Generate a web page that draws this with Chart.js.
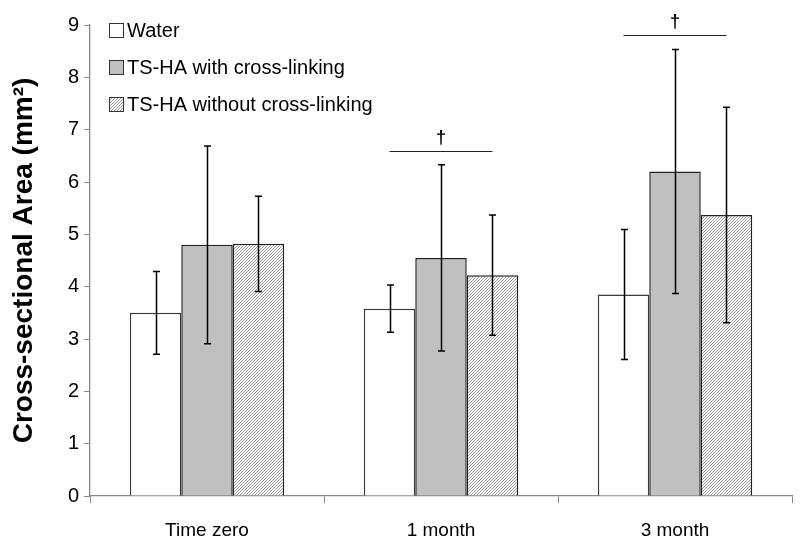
<!DOCTYPE html>
<html>
<head>
<meta charset="utf-8">
<script src="https://cdn.jsdelivr.net/npm/chart.js@4.4.1/dist/chart.umd.min.js"></script>
<style>
  html, body { margin: 0; padding: 0; background: #fff; }
  #wrap { width: 800px; height: 552px; }
</style>
</head>
<body>
<div id="wrap"><canvas id="chart"></canvas></div>
<script>
const categories = ['Time zero', '1 month', '3 month'];
const seriesNames = ['Water', 'TS-HA with cross-linking', 'TS-HA without cross-linking'];
const water = [3.5, 3.58, 3.85];
const waterSd = [0.79, 0.45, 1.24];
const withCL = [4.8, 4.55, 6.2];
const withCLSd = [1.89, 1.78, 2.33];
const withoutCL = [4.82, 4.22, 5.37];
const withoutCLSd = [0.91, 1.15, 2.06];
const yTicks = [0, 1, 2, 3, 4, 5, 6, 7, 8, 9];
const sigMarks = ['', '\u2020', '\u2020'];

Chart.defaults.font.family = "'Liberation Sans', Arial, sans-serif";
Chart.defaults.color = '#000';

// fine diagonal hatch for the third series
function hatch() {
    const c = document.createElement('canvas');
    c.width = 3;
    c.height = 3;
    const g = c.getContext('2d');
    g.fillStyle = '#fff';
    g.fillRect(0, 0, 3, 3);
    g.fillStyle = '#9a9a9a';
    g.fillRect(0, 2, 1, 1);
    g.fillRect(1, 1, 1, 1);
    g.fillRect(2, 0, 1, 1);
    return g.createPattern(c, 'repeat');
}
const hatchFill = hatch();

const errorBars = {
    id: 'errorBars',
    afterDatasetsDraw(chart) {
        const ctx = chart.ctx;
        const y = chart.scales.y;
        ctx.save();
        ctx.strokeStyle = '#000';
        ctx.lineWidth = 1.5;
        chart.data.datasets.forEach((ds, i) => {
            const meta = chart.getDatasetMeta(i);
            meta.data.forEach((bar, j) => {
                const top = y.getPixelForValue(ds.data[j] + ds.sd[j]);
                const bot = y.getPixelForValue(ds.data[j] - ds.sd[j]);
                const x = Math.round(bar.x) + 0.5;
                ctx.beginPath();
                ctx.moveTo(x, top); ctx.lineTo(x, bot);
                ctx.moveTo(x - 3.5, top); ctx.lineTo(x + 3.5, top);
                ctx.moveTo(x - 3.5, bot); ctx.lineTo(x + 3.5, bot);
                ctx.stroke();
            });
        });
        // significance lines between first and last bar of a group
        const first = chart.getDatasetMeta(0).data;
        const last = chart.getDatasetMeta(2).data;
        ctx.strokeStyle = '#222';
        ctx.lineWidth = 1.2;
        ctx.fillStyle = '#000';
        ctx.font = "bold 18px 'Liberation Sans', Arial";
        ctx.textAlign = 'center';
        ctx.textBaseline = 'bottom';
        sigMarks.forEach((m, j) => {
            if (!m) return;
            let top = 0;
            chart.data.datasets.forEach(ds => { top = Math.max(top, ds.data[j] + ds.sd[j]); });
            const ly = Math.round(y.getPixelForValue(top + 0.27)) + 0.5;
            ctx.beginPath();
            ctx.moveTo(first[j].x, ly); ctx.lineTo(last[j].x, ly);
            ctx.stroke();
            ctx.fillText(m, (first[j].x + last[j].x) / 2, ly - 4);
        });
        ctx.restore();
    }
};

const boxLegend = {
    id: 'boxLegend',
    afterDraw(chart) {
        const ctx = chart.ctx;
        const area = chart.chartArea;
        ctx.save();
        ctx.font = "20px 'Liberation Sans', Arial";
        ctx.textBaseline = 'middle';
        ctx.textAlign = 'left';
        chart.data.datasets.forEach((ds, i) => {
            const cy = area.top + 5 + i * 37;
            const bx = area.left + 19;
            ctx.fillStyle = ds.backgroundColor;
            ctx.fillRect(bx, cy - 7, 14, 14);
            ctx.strokeStyle = '#333';
            ctx.lineWidth = 1;
            ctx.strokeRect(bx + 0.5, cy - 6.5, 14, 14);
            ctx.fillStyle = '#000';
            ctx.fillText(ds.label, bx + 18, cy + 1);
        });
        ctx.restore();
    }
};

new Chart(document.getElementById('chart'), {
    type: 'bar',
    data: {
        labels: categories,
        datasets: [
            { label: seriesNames[0], data: water, sd: waterSd, backgroundColor: '#ffffff', borderColor: '#3a3a3a', borderWidth: 1.5 },
            { label: seriesNames[1], data: withCL, sd: withCLSd, backgroundColor: '#c0c0c0', borderColor: '#222', borderWidth: 1.5 },
            { label: seriesNames[2], data: withoutCL, sd: withoutCLSd, backgroundColor: hatchFill, borderColor: '#222', borderWidth: 1.5 }
        ]
    },
    options: {
        responsive: true,
        maintainAspectRatio: false,
        animation: false,
        layout: { padding: { top: 25, right: 8, left: 0, bottom: 0 } },
        datasets: { bar: { barPercentage: 1, categoryPercentage: 0.66 } },
        plugins: { legend: { display: false }, tooltip: { enabled: false } },
        scales: {
            x: {
                grid: { display: true, drawOnChartArea: false, offset: true, tickLength: 7, color: '#888' },
                border: { color: '#888', width: 1.3 },
                ticks: { font: { size: 19 }, padding: 16 },
                afterFit: s => { s.height = 56; }
            },
            y: {
                min: 0,
                max: 9,
                afterBuildTicks: s => { s.ticks = yTicks.map(v => ({ value: v })); },
                grid: { display: true, drawOnChartArea: false, tickLength: 6, color: '#888' },
                border: { color: '#888', width: 1.3 },
                ticks: { font: { size: 20 }, padding: 5 },
                title: {
                    display: true,
                    text: 'Cross-sectional Area (mm\u00b2)',
                    font: { size: 28, weight: 'bold' },
                    padding: { top: 7, bottom: 4 }
                },
                afterFit: s => { s.width = 90; }
            }
        }
    },
    plugins: [errorBars, boxLegend]
});
</script>
</body>
</html>
